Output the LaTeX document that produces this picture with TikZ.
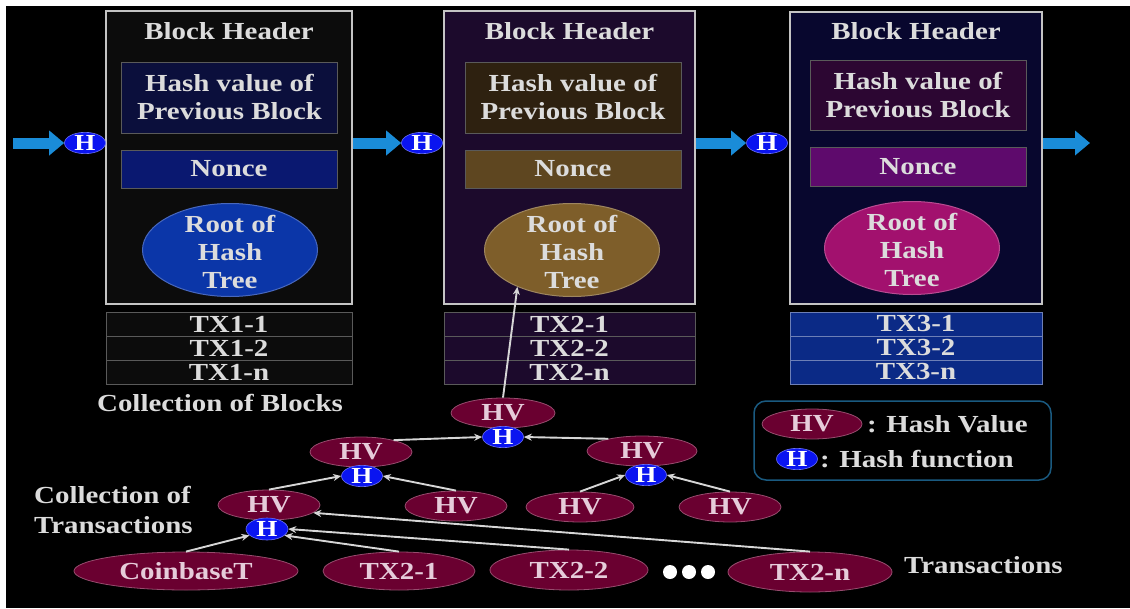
\documentclass[tikz,border=0pt]{standalone}
\usepackage{fontspec}
\setmainfont{Liberation Serif}[FakeStretch=1.18]
\usetikzlibrary{shapes.geometric,arrows.meta}

\definecolor{txtgray}{HTML}{DCDCDC}
\definecolor{hvtext}{HTML}{E6CCDA}
\definecolor{framegray}{HTML}{C4C4C4}
\definecolor{rowgray}{HTML}{5A5A5A}
\definecolor{chainblue}{HTML}{1A8CD8}
\definecolor{hblue}{HTML}{0A14F0}
\definecolor{hvred}{HTML}{6A0030}
\definecolor{linegray}{HTML}{D6D6D6}
\definecolor{legendline}{HTML}{1A5A80}
% block colours
\definecolor{bkA}{HTML}{0C0C0C}
\definecolor{bkB}{HTML}{1C0A2C}
\definecolor{bkC}{HTML}{08072E}
\definecolor{hashA}{HTML}{0B0F3C}
\definecolor{hashB}{HTML}{2E2110}
\definecolor{hashC}{HTML}{2C0632}
\definecolor{nonceA}{HTML}{0A1870}
\definecolor{nonceB}{HTML}{5E4620}
\definecolor{nonceC}{HTML}{5E0A6C}
\definecolor{rootA}{HTML}{0B36A8}
\definecolor{rootB}{HTML}{7E5E2A}
\definecolor{rootC}{HTML}{A2116E}
\definecolor{txC}{HTML}{0B2A86}

\tikzset{
  txt/.style={text=txtgray, font=\bfseries\fontsize{24.5}{28}\selectfont, inner sep=0pt},
  blockbox/.style={draw=framegray, line width=2.5pt, inner sep=0pt},
  fieldbox/.style={txt, draw=rowgray, line width=1pt, minimum width=216pt, align=center},
  rootell/.style={ellipse, draw, line width=1pt, minimum width=175pt, minimum height=93pt, inner sep=0pt},
  txrow/.style={txt, draw=rowgray, line width=1pt, minimum height=24pt},
  hv/.style={txt, text=hvtext, ellipse, fill=hvred, draw=hvred!70!white, line width=0.8pt, minimum width=102pt, minimum height=30pt},
  hfun/.style={ellipse, fill=hblue, draw=hblue!60!white, line width=0.6pt, minimum width=41pt, minimum height=21pt, inner sep=0pt, text=white, font=\bfseries\fontsize{23}{23}\selectfont},
  chain/.style={draw=chainblue, line width=11pt, -{Triangle[length=15pt,width=24pt]}},
  link/.style={draw=linegray, line width=1.9pt, -{Stealth[length=8pt,width=7pt]}},
  dotmark/.style={circle, fill=white, minimum size=14pt, inner sep=0pt},
  legendbox/.style={draw=legendline, line width=1.5pt, rounded corners=12pt, inner sep=0pt}
}

\begin{document}
\begin{tikzpicture}[x=1pt,y=-1pt]
  % page and background
  \useasboundingbox (0,0) rectangle (1130,608);
  \fill[white] (0,0) rectangle (1130,608);
  \fill[black] (6,6) rectangle (1130,608);

  % Block 1
  \node[blockbox, fill=bkA, minimum width=246pt, minimum height=293pt] (b1) at (229,157.5) {};
  \node[txt] (head1) at (229,31) {Block Header};
  \node[fieldbox, fill=hashA, minimum height=71pt] (prev1) at (229.5,97.5) {Hash value of\\Previous Block};
  \node[fieldbox, fill=nonceA, minimum height=38pt] (nonce1) at (229,169) {Nonce};
  \node[rootell, fill=rootA, draw=rootA!75!white] (root1) at (230,250) {};
  \node[txt, align=center] (rtxt1) at (230,252) {Root of\\Hash\\Tree};

  % Block 2
  \node[blockbox, fill=bkB, minimum width=251pt, minimum height=293pt] (b2) at (569.5,157.5) {};
  \node[txt] (head2) at (569.5,31) {Block Header};
  \node[fieldbox, fill=hashB, minimum height=71pt] (prev2) at (573,97.5) {Hash value of\\Previous Block};
  \node[fieldbox, fill=nonceB, minimum height=38pt] (nonce2) at (573,169) {Nonce};
  \node[rootell, fill=rootB, draw=rootB!75!white] (root2) at (572,250) {};
  \node[txt, align=center] (rtxt2) at (572,252) {Root of\\Hash\\Tree};

  % Block 3
  \node[blockbox, fill=bkC, minimum width=252pt, minimum height=292pt] (b3) at (916,158) {};
  \node[txt] (head3) at (916,31) {Block Header};
  \node[fieldbox, fill=hashC, minimum height=70pt] (prev3) at (918,95) {Hash value of\\Previous Block};
  \node[fieldbox, fill=nonceC, minimum height=39pt] (nonce3) at (918,166.5) {Nonce};
  \node[rootell, fill=rootC, draw=rootC!75!white] (root3) at (912,248) {};
  \node[txt, align=center] (rtxt3) at (912,250) {Root of\\Hash\\Tree};

  % Transactions stored in each block
  \foreach \y/\t [count=\k] in {324/1, 348/2, 372/n} {
    \node[txrow, fill=bkA, minimum width=246pt] (txa\k) at (229,\y) {TX1-\t};
    \node[txrow, fill=bkB, minimum width=251pt] (txb\k) at (569.5,\y) {TX2-\t};
    \node[txrow, fill=txC, draw=txC!60!white, minimum width=252pt] (txc\k) at (916,\y) {TX3-\t};
  }
  \node[txt] (cblocks) at (220,403) {Collection of Blocks};

  % Chain of hashes
  \coordinate (chainin) at (13,143);
  \coordinate (chainout) at (1090,143);
  \node[hfun] (h1) at (85,143) {H};
  \node[hfun] (h2) at (422,143) {H};
  \node[hfun] (h3) at (767,143) {H};
  \draw[chain] (chainin) -- (h1.west);
  \draw[chain] (b1.east |- h2) -- (h2.west);
  \draw[chain] (b2.east |- h3) -- (h3.west);
  \draw[chain] (b3.east |- chainout) -- (chainout);

  % Hash tree
  \node[hv, minimum width=104pt] (hvroot) at (503,413) {HV};
  \node[hfun] (hroot) at (503,437) {H};
  \node[hv] (hvl) at (361,452) {HV};
  \node[hfun] (hl) at (362,476) {H};
  \node[hv, minimum width=110pt] (hvr) at (642,451) {HV};
  \node[hfun] (hr) at (646,475) {H};
  \node[hv] (hvll) at (269,505) {HV};
  \node[hfun, minimum width=42pt, minimum height=22pt] (hll) at (267,529) {H};
  \node[hv] (hvlr) at (456,506) {HV};
  \node[hv, minimum width=108pt] (hvrl) at (580,507) {HV};
  \node[hv] (hvrr) at (730,507) {HV};

  % Transactions
  \node[hv, minimum width=224pt, minimum height=38pt] (coin) at (186,571) {CoinbaseT};
  \node[hv, minimum width=152pt, minimum height=38pt] (tx1) at (399,571) {TX2-1};
  \node[hv, minimum width=158pt, minimum height=40pt] (tx2) at (569,570) {TX2-2};
  \foreach \x [count=\k] in {670,689,708} {
    \node[dotmark] (dot\k) at (\x,572) {};
  }
  \node[hv, minimum width=164pt, minimum height=40pt] (txn) at (810,572) {TX2-n};
  \node[txt, anchor=west] (translabel) at (904,565) {Transactions};
  \node[txt, align=left, anchor=west, font=\bfseries\fontsize{24.5}{30}\selectfont] (ctrans) at (34,510) {Collection of\\Transactions};

  % Tree links
  \draw[link] (hvroot.north) -- (root2.214);
  \draw[link] (hvl.20) -- (hroot.west);
  \draw[link] (hvr.160) -- (hroot.east);
  \draw[link] (hvll.north) -- (hl.west);
  \draw[link] (hvlr.north) -- (hl.east);
  \draw[link] (hvrl.north) -- (hr.west);
  \draw[link] (hvrr.north) -- (hr.east);
  \draw[link] (coin.north) -- (hll.200);
  \draw[link] (tx1.north) -- (hll.340);
  \draw[link] (tx2.north) -- (hll.east);
  \draw[link] (txn.north) -- (hvll.350);

  % Legend
  \node[legendbox, minimum width=297pt, minimum height=79pt] (legend) at (902.5,440.5) {};
  \node[hv, minimum width=100pt] (lhv) at (812,424) {HV};
  \node[txt, anchor=west] (lhvtxt) at (867,424) {: Hash Value};
  \node[hfun] (lh) at (797,459) {H};
  \node[txt, anchor=west] (lhtxt) at (820,459) {: Hash function};
\end{tikzpicture}
\end{document}
